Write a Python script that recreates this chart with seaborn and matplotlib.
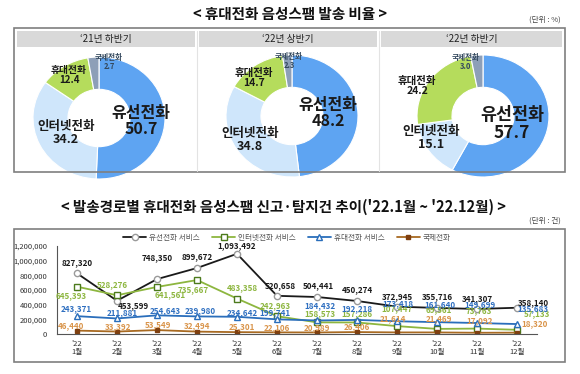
import numpy as np
import matplotlib
matplotlib.use("Agg")
import matplotlib.pyplot as plt
from matplotlib.patches import Rectangle
from matplotlib.lines import Line2D
import seaborn as sns

# ---- donut data (%) ----
periods = ["‘21년 하반기", "‘22년 상반기", "‘22년 하반기"]
routes = ["유선전화", "인터넷전화", "휴대전화", "국제전화"]
share_21h2 = [50.7, 34.2, 12.4, 2.7]
share_22h1 = [48.2, 34.8, 14.7, 2.3]
share_22h2 = [57.7, 15.1, 24.2, 3.0]

# ---- monthly data (건) ----
months = ["'22\n1월", "'22\n2월", "'22\n3월", "'22\n4월", "'22\n5월", "'22\n6월",
          "'22\n7월", "'22\n8월", "'22\n9월", "'22\n10월", "'22\n11월", "'22\n12월"]
landline = [827320, 453599, 748350, 899672, 1093492, 520658,
            504441, 450274, 372945, 355716, 341307, 358140]
internet = [645393, 528276, 641561, 735667, 483358, 242963,
            158573, 157286, 107447, 69561, 73763, 57133]
mobile = [243371, 211881, 254643, 239980, 234642, 199741,
          184432, 192218, 173418, 161640, 149699, 135683]
intl = [46440, 33392, 53549, 32494, 25301, 22106,
        20989, 26406, 21614, 21469, 17092, 18320]
series_names = ["유선전화 서비스", "인터넷전화 서비스", "휴대전화 서비스", "국제전화"]

W, H = 580, 374
sns.set_theme(style="white")
plt.rcParams['font.family'] = ['Noto Sans CJK KR', 'DejaVu Sans']


def fx(x):
    return x / W


def fy(y):
    return 1 - y / H


def box(fig, x0, y0, x1, y1, **kw):
    fig.add_artist(Rectangle((fx(x0), fy(y1)), (x1 - x0) / W, (y1 - y0) / H,
                             transform=fig.transFigure, **kw))


fig = plt.figure(figsize=(W / 100, H / 100), dpi=100)
fig.patch.set_facecolor("white")

# ---------------- top: donuts ----------------
fig.text(fx(290), fy(14), "< 휴대전화 음성스팸 발송 비율 >", ha="center", va="center",
         fontsize=10.5, weight="bold", color="#111111")
fig.text(fx(561), fy(20), "(단위 : %)", ha="right", va="center", fontsize=5.5, color="#444444")
box(fig, 14, 28, 565, 172, fill=False, edgecolor="#7f7f7f", linewidth=1.2)

donut_colors = ["#5ea4f2", "#cfe6fb", "#b5dc5c", "#8d9fb8"]
panels = [(17, 195), (199, 377), (381, 562)]
centers = [(99, 118), (292, 116), (483, 116)]
rx, ry = 66, 61
shares = [share_21h2, share_22h1, share_22h2]
# label centre positions (px) and font sizes for each route, per panel
label_pos = [
    [(141, 121, 11.5), (66, 133, 9), (69, 75, 7), (109, 62, 5.5)],
    [(328, 113, 11.5), (250, 140, 9), (254, 78, 7.5), (289, 61, 5.5)],
    [(512, 124, 12.5), (431, 138, 9), (417, 86, 7.5), (466, 62, 5.5)],
]

for k in range(3):
    x0, x1 = panels[k]
    box(fig, x0, 31, x1, 47, facecolor="#d9d9d9", edgecolor="none")
    fig.text(fx((x0 + x1) / 2), fy(39), periods[k], ha="center", va="center",
             fontsize=7, color="#222222")
    if k > 0:
        fig.add_artist(Line2D([fx(x0 - 2), fx(x0 - 2)], [fy(31), fy(171)],
                              transform=fig.transFigure, color="#e3e3e3", linewidth=0.8))
    top, bot = 48, 171
    ax = fig.add_axes([fx(x0), fy(bot), (x1 - x0) / W, (bot - top) / H])
    ax.pie(shares[k], colors=donut_colors, startangle=90, counterclock=False,
           wedgeprops=dict(width=0.53, edgecolor="white", linewidth=0.8))
    cx, cy = centers[k]
    ax.set_aspect("auto")
    ax.set_xlim((x0 - cx) / rx, (x1 - cx) / rx)
    ax.set_ylim((cy - bot) / ry, (cy - top) / ry)
    ax.axis("off")
    for j in range(4):
        lx, ly, fs = label_pos[k][j]
        fig.text(fx(lx), fy(ly), "%s\n%.1f" % (routes[j], shares[k][j]),
                 ha="center", va="center", fontsize=fs, weight="bold",
                 color="#34495e" if j == 3 else "#1a1a1a", linespacing=1.0)

# ---------------- bottom: monthly trend ----------------
fig.text(fx(283), fy(207), "< 발송경로별 휴대전화 음성스팸 신고·탐지건 추이('22.1월 ~ '22.12월) >",
         ha="center", va="center", fontsize=10.5, weight="bold", color="#111111")
fig.text(fx(561), fy(221), "(단위 : 건)", ha="right", va="center", fontsize=5.5, color="#444444")
box(fig, 14, 229, 565, 362, fill=False, edgecolor="#7f7f7f", linewidth=1.2)

ax = fig.add_axes([fx(57), fy(334), 480 / W, 88 / H])
x = np.arange(len(months))

styles = [
    dict(color="#1a1a1a", marker="o", mfc="white", mec="#9a9a9a", ms=4.5, lab="#1a1a1a"),
    dict(color="#8db63f", marker="s", mfc="white", mec="#4c7a1c", ms=4.5, lab="#8db63f"),
    dict(color="#2a6ebb", marker="^", mfc="white", mec="#2a6ebb", ms=4, lab="#2e6fc0"),
    dict(color="#a86a22", marker="s", mfc="#7f3f0f", mec="#7f3f0f", ms=3.5, lab="#d9944a"),
]
data = [landline, internet, mobile, intl]
# label offsets in pixels (dx, dy up)
offsets = [
    [(0, 11), (16, -5), (0, 22), (0, 11), (0, 8), (3, 10), (1, 11), (0, 11), (0, 10), (0, 11), (0, 10), (16, 5)],
    [(-6, -9), (-5, 11), (13, -8), (-4, -10), (5, 11), (-2, 11), (3, 9), (0, 9), (0, 18), (2, 19), (2, 18), (20, 16)],
    [(-1, 8), (5, 6), (8, 5), (3, 6), (5, 4), (-2, 7), (3, 15), (0, 11), (1, 18), (3, 18), (3, 18), (16, 15)],
    [(-6, 5), (1, 5), (1, 5), (0, 6), (5, 6), (0, 5), (0, 5), (0, 5), (-4, 14), (2, 14), (3, 12), (18, 9)],
]

handles = []
for vals, st, offs, name in zip(data, styles, offsets, series_names):
    sns.lineplot(x=x, y=vals, ax=ax, color=st["color"], linewidth=1.3, marker=st["marker"],
                 markersize=st["ms"], markerfacecolor=st["mfc"], markeredgecolor=st["mec"],
                 markeredgewidth=1.0, legend=False)
    for i, v in enumerate(vals):
        ax.annotate(f"{v:,}", (i, v), xytext=offs[i], textcoords="offset pixels",
                    ha="center", va="center", fontsize=5.8, weight="bold",
                    color=st["lab"], annotation_clip=False)
    handles.append(Line2D([0], [0], color=st["color"], linewidth=1.3, marker=st["marker"],
                          markersize=st["ms"], markerfacecolor=st["mfc"],
                          markeredgecolor=st["mec"], label=name))

ax.set_xlim(-0.5, 11.5)
ax.set_ylim(0, 1200000)
ax.set_yticks(np.arange(0, 1200001, 200000))
ax.set_yticklabels([f"{t:,}" for t in range(0, 1200001, 200000)])
ax.set_xticks(x)
ax.set_xticklabels(months, linespacing=1.1)
ax.tick_params(axis="both", length=0, labelsize=5.5, labelcolor="#333333")
ax.tick_params(axis="y", pad=7)
ax.tick_params(axis="x", pad=4)
ax.set_xlabel("")
ax.set_ylabel("")
sns.despine(ax=ax, top=True, right=True)
for s in ["left", "bottom"]:
    ax.spines[s].set_color("#555555")
    ax.spines[s].set_linewidth(0.8)
ax.set_facecolor("none")

fig.legend(handles=handles, loc="center", bbox_to_anchor=(fx(287), fy(238)), ncol=4,
           frameon=False, fontsize=5.5, labelcolor="#555555", handlelength=3,
           columnspacing=1.6, handletextpad=0.4)

fig.savefig("out.png", dpi=100)
